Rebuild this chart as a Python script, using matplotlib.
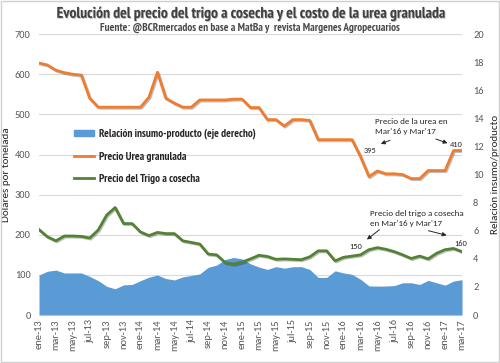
import matplotlib
matplotlib.use("Agg")
import matplotlib.pyplot as plt
import matplotlib.patheffects as pe
from matplotlib.patches import Patch, Rectangle
from matplotlib.lines import Line2D

meses = ["ene", "feb", "mar", "abr", "may", "jun", "jul", "ago", "sep", "oct", "nov", "dic"]
fechas = []
for anio in range(13, 18):
    for m in meses:
        fechas.append(m + "-" + str(anio))
fechas = fechas[:51]  # ene-13 .. mar-17

# precio urea granulada (u$s/t)
urea = [628, 623, 610, 604, 600, 598, 540, 518, 518, 518, 518, 518, 518,
        543, 605, 540, 528, 518, 518, 536, 536, 536, 536, 538, 538,
        517, 517, 487, 487, 471, 487, 487, 485, 437, 437, 437, 437, 437,
        395, 345, 359, 352, 352, 350, 340, 340, 360, 360, 360, 410, 410]

# precio trigo a cosecha (u$s/t)
trigo = [213, 195, 185, 197, 197, 196, 192, 212, 249, 268, 228, 228, 207,
         198, 206, 203, 203, 185, 181, 177, 152, 150, 131, 127, 132,
         140, 149, 146, 139, 140, 139, 138, 145, 160, 160, 135, 144, 147,
         150, 163, 168, 164, 158, 150, 141, 147, 140, 154, 163, 166, 158]

# relacion insumo-producto (eje derecho)
relacion = [2.85, 3.12, 3.2, 3.0, 3.0, 3.0, 2.75, 2.45, 2.05, 1.87, 2.15, 2.18, 2.45,
            2.7, 2.85, 2.6, 2.5, 2.72, 2.82, 2.93, 3.4, 3.56, 3.96, 4.1, 4.0,
            3.65, 3.42, 3.25, 3.45, 3.34, 3.44, 3.45, 3.25, 2.68, 2.68, 3.15, 3.0, 2.9,
            2.55, 2.08, 2.06, 2.07, 2.1, 2.3, 2.3, 2.18, 2.47, 2.3, 2.13, 2.42, 2.52]

x = list(range(len(fechas)))

azul = "#5B9BD5"
naranja = "#ED7D31"
verde = "#548235"
gris = "#595959"
oscuro = "#262626"

narrow = ["PT Sans Narrow", "Archivo Narrow", "DejaVu Sans"]
plt.rcParams["font.family"] = ["Carlito", "DejaVu Sans"]

fig = plt.figure(figsize=(5, 3.63), dpi=100)
fig.patches.append(Rectangle((0.002, 0.003), 0.996, 0.994, transform=fig.transFigure,
                             fill=False, edgecolor="#d0d0d0", linewidth=1))

ax2 = fig.add_axes([0.078, 0.132, 0.846, 0.774])  # eje derecho (area)
ax = ax2.twinx()
# precios en el eje izquierdo
ax.yaxis.tick_left()
ax.yaxis.set_label_position("left")
ax2.yaxis.tick_right()
ax2.yaxis.set_label_position("right")

ax2.fill_between(x, relacion, 0, color=azul, linewidth=0, zorder=1)
ax2.set_ylim(0, 20)
ax2.set_yticks(range(0, 21, 2))

sombra = [pe.SimpleLineShadow(offset=(0.8, -0.8), alpha=0.25), pe.Normal()]
ax.plot(x, urea, color=naranja, linewidth=2, path_effects=sombra, zorder=3)
ax.plot(x, trigo, color=verde, linewidth=2, path_effects=sombra, zorder=3)
ax.set_ylim(0, 700)
ax.set_yticks(range(0, 701, 100))
ax.set_xlim(0, 50)

for a in (ax, ax2):
    for s in a.spines.values():
        s.set_visible(False)
    a.tick_params(length=0, labelsize=7.5, colors=gris)
ax.tick_params(axis="y", pad=6)
ax2.tick_params(axis="y", pad=8)
for v in range(100, 701, 100):
    ax2.axhline(v / 35.0, color="#d9d9d9", linewidth=0.8, zorder=0)
ax2.axhline(0, color="#d9d9d9", linewidth=0.8, zorder=2)
ax2.set_xticks(x[::2])
ax2.set_xticklabels(fechas[::2], rotation=90, fontsize=7.5, color=gris)
ax2.tick_params(axis="x", pad=3)

ax.set_ylabel("Dólares por tonelada", fontsize=8, color=oscuro, labelpad=3)
ax2.set_ylabel("Relación insumo/producto", fontsize=8, color=oscuro, labelpad=5)

fig.text(0.5, 0.962, "Evolución del precio del trigo a cosecha y el costo de la urea granulada",
         ha="center", va="center", fontsize=11.2, fontweight="bold", color="#404040",
         family=narrow, path_effects=[pe.withSimplePatchShadow(offset=(0.6, -0.6), alpha=0.3)])
fig.text(0.5, 0.922, "Fuente: @BCRmercados en base a MatBa y  revista Margenes Agropecuarios",
         ha="center", va="center", fontsize=8, fontweight="bold", color="#4a4a4a", family=narrow)

handles = [Patch(facecolor=azul, edgecolor=azul),
           Line2D([0], [0], color=naranja, linewidth=2),
           Line2D([0], [0], color=verde, linewidth=2)]
labels = ["Relación insumo-producto (eje derecho)", "Precio Urea granulada",
          "Precio del Trigo a cosecha"]
leg = ax.legend(handles, labels, loc="upper left", bbox_to_anchor=(0.06, 0.7),
                frameon=False, handlelength=1.8, handleheight=0.5, handletextpad=0.4,
                labelspacing=1.1,
                prop={"family": narrow, "weight": "bold", "size": 8})
for t in leg.get_texts():
    t.set_color(oscuro)

# anotaciones
ax.text(39.7, 470, "Precio de la urea en\nMar'16 y Mar'17", fontsize=6.5,
        color=oscuro, va="center", ha="left", linespacing=1.4)
ax.annotate("", xy=(40.1, 424), xytext=(41.8, 438),
            arrowprops=dict(arrowstyle="-|>", color=oscuro, lw=0.7, mutation_scale=6))
ax.annotate("", xy=(48.6, 426), xytext=(46.6, 441),
            arrowprops=dict(arrowstyle="-|>", color=oscuro, lw=0.7, mutation_scale=6))
ax.text(39.1, 409, "395", fontsize=6, color=oscuro, ha="center", va="center")
ax.text(49.3, 426, "410", fontsize=6, color=oscuro, ha="center", va="center")

ax.text(39.1, 241, "Precio del trigo a cosecha\nen Mar'16 y Mar'17", fontsize=6.5,
        color=oscuro, va="center", ha="left", linespacing=1.4)
ax.annotate("", xy=(38.5, 184), xytext=(40.5, 217),
            arrowprops=dict(arrowstyle="-|>", color=oscuro, lw=0.7, mutation_scale=6))
ax.annotate("", xy=(48.5, 197), xytext=(45.7, 212),
            arrowprops=dict(arrowstyle="-|>", color=oscuro, lw=0.7, mutation_scale=6))
ax.text(37.4, 170, "150", fontsize=6, color=oscuro, ha="center", va="center")
ax.text(49.9, 179, "160", fontsize=6, color=oscuro, ha="center", va="center")

plt.savefig("out.png", dpi=100)
